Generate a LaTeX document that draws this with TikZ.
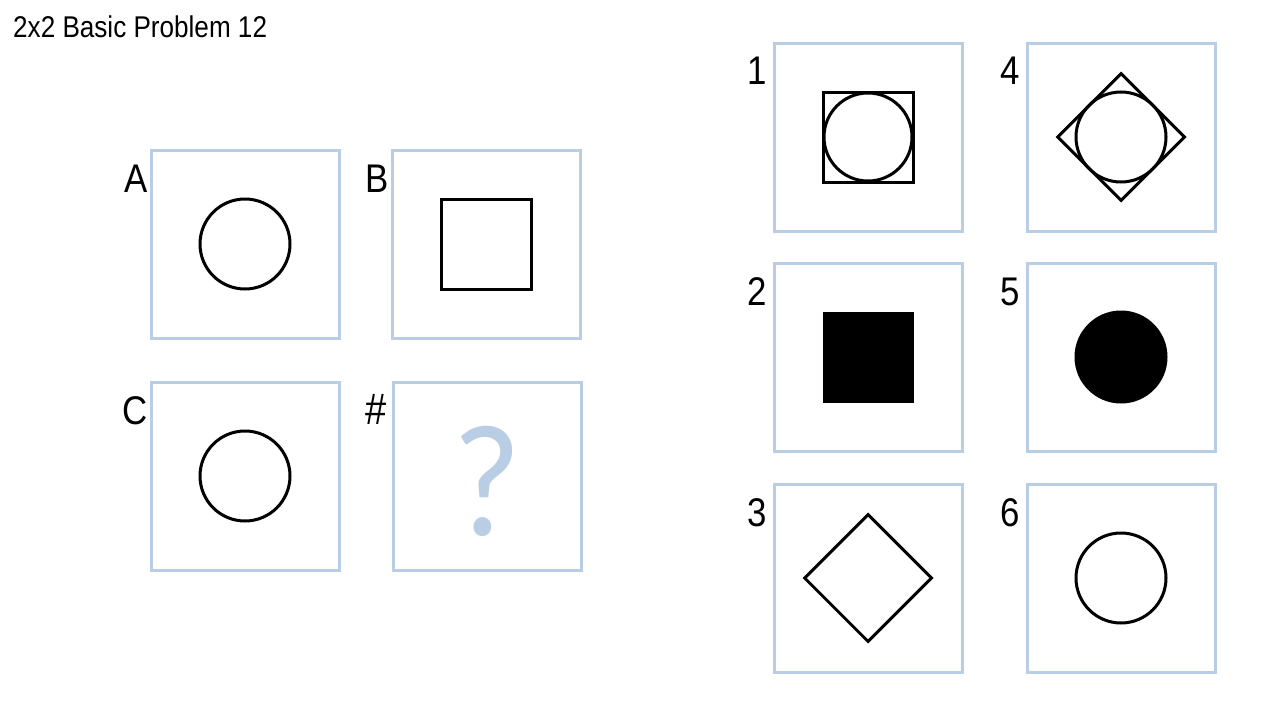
\documentclass[tikz,border=0pt]{standalone}
\usepackage{fontspec}
\setmainfont{Liberation Sans}
\newfontfamily\qfont{Carlito}
\usetikzlibrary{shapes.geometric}
\definecolor{panelblue}{RGB}{185,205,229}
\tikzset{
  panel/.style={draw=panelblue, line width=3pt, minimum size=188pt, inner sep=0pt, outer sep=0pt},
  lbl/.style={anchor=base east, inner sep=0pt, font=\fontsize{40}{40}\selectfont},
  ring/.style={draw=black, line width=3pt, circle, inner sep=0pt, minimum size=#1},
  sq/.style={draw=black, line width=3pt, rectangle, inner sep=0pt, minimum size=#1},
  dia/.style={draw=black, line width=3pt, diamond, inner sep=0pt, minimum width=#1, minimum height=#1},
}
\newcommand{\nar}[1]{\scalebox{0.87}[1]{#1}}
\begin{document}
\begin{tikzpicture}[x=1pt,y=-1pt]
\useasboundingbox (0,0) rectangle (1280,720);
\node[anchor=base west, inner sep=0pt, font=\fontsize{30}{30}\selectfont] (title) at (13,37) {\nar{2x2 Basic Problem 12}};
% matrix panels
\node[panel] (pA) at (245,244) {};
\node[panel] (pB) at (486,244) {};
\node[panel] (pC) at (245,476) {};
\node[panel] (pQ) at (487,476) {};
\node[lbl] (lA) at (148,192) {\nar{A}};
\node[lbl] (lB) at (389,192) {\nar{B}};
\node[lbl] (lC) at (148,424) {\nar{C}};
\node[lbl] (lQ) at (387,424) {\scalebox{0.95}[1.1]{\#}};
\node[ring=90pt] (sA) at (pA.center) {};
\node[sq=90pt] (sB) at (pB.center) {};
\node[ring=90pt] (sC) at (pC.center) {};
\node[anchor=base, inner sep=0pt, text=panelblue, font=\qfont\fontsize{160}{160}\selectfont] (qm) at (487,535) {\scalebox{0.93}[1]{?}};
% answer panels
\node[panel] (p1) at (868,137) {};
\node[panel] (p4) at (1121,137) {};
\node[panel] (p2) at (868,357) {};
\node[panel] (p5) at (1121,357) {};
\node[panel] (p3) at (868,578) {};
\node[panel] (p6) at (1121,578) {};
\node[lbl] (l1) at (767,84) {\nar{1}};
\node[lbl] (l4) at (1020,84) {\nar{4}};
\node[lbl] (l2) at (767,305) {\nar{2}};
\node[lbl] (l5) at (1020,305) {\nar{5}};
\node[lbl] (l3) at (767,526) {\nar{3}};
\node[lbl] (l6) at (1020,526) {\nar{6}};
\node[sq=90pt] (s1a) at (p1.center) {};
\node[ring=88pt] (s1b) at (p1.center) {};
\node[dia=128pt] (s4a) at (p4.center) {};
\node[ring=90pt] (s4b) at (p4.center) {};
\node[sq=88pt, fill=black] (s2) at (p2.center) {};
\node[ring=90pt, fill=black] (s5) at (p5.center) {};
\node[dia=128pt] (s3) at (p3.center) {};
\node[ring=90pt] (s6) at (p6.center) {};
\end{tikzpicture}
\end{document}
